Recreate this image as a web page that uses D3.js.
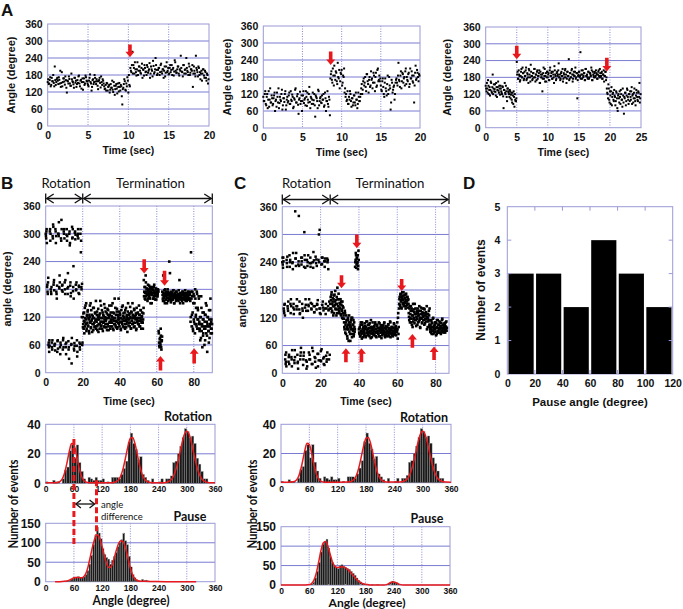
<!DOCTYPE html>
<html><head><meta charset="utf-8">
<script src="https://cdn.jsdelivr.net/npm/d3@7"></script>
<style>body{margin:0;background:#fff}svg{display:block}</style>
</head><body>
<script>
// ---------------- DATA ----------------
// Panel A: angle traces (degree), two interleaved frame sets each
const a1Dt = 0.125;
const a1Angle = [155,148,162,140,170,158,152,210,145,165,160,172,150,138,190,155,168,146,162,118,158,175,150,142,165,155,135,170,160,148,152,178,140,163,155,128,168,150,172,158,145,160,182,150,138,165,155,170,148,158,130,162,152,175,145,160,
140,132,125,150,138,145,128,135,160,120,142,130,148,115,138,152,125,140,76,135,165,128,150,172,118,145,
205,190,262,215,185,200,178,225,195,210,188,205,170,198,215,190,180,208,195,222,185,200,175,212,190,240,198,185,205,180,215,192,200,170,210,188,225,195,182,205,190,215,200,178,232,195,188,210,185,200,248,192,175,215,198,185,205,190,220,180,200,195,138,210,185,248,198,175,205,190,185,160,200,178,195,170,185,150];
const a1Angle2 = [165,150,172,145,158,180,140,162,155,170,148,163,195,152,140,168,157,175,135,160,150,166,142,185,158,147,170,153,138,162,175,150,160,132,168,155,145,178,160,150,140,170,155,125,162,148,180,157,165,142,158,170,136,155,165,150,
130,145,152,125,140,118,148,135,128,155,110,142,132,150,122,138,145,105,130,148,158,125,140,160,180,140,
195,215,185,205,225,190,200,180,210,195,185,220,200,178,205,192,215,188,200,170,210,195,230,185,200,215,180,198,205,190,220,185,200,195,175,210,190,205,185,215,198,180,205,192,225,188,200,210,178,195,205,190,215,185,200,240,195,180,210,188,200,215,185,195,175,205,190,210,180,165,195,185,200,170,190,160,180,165];
const a2Dt = 0.125;
const a2Angle = [110,95,130,80,120,100,75,140,90,105,85,115,60,100,125,90,70,110,95,135,80,105,120,65,100,90,115,85,130,95,110,75,100,140,90,120,50,105,85,115,95,130,100,80,110,125,90,145,70,105,100,85,120,40,110,95,135,80,105,90,115,100,75,125,60,95,85,110,
45,190,170,210,150,185,200,165,230,175,140,195,205,160,180,125,
110,95,130,85,100,120,75,105,90,115,80,100,70,125,95,110,
140,120,165,150,180,130,190,155,170,145,200,175,160,185,130,195,150,210,170,165,
150,130,175,120,160,140,115,185,135,150,65,170,125,145,100,160,
175,150,230,165,185,140,195,160,180,200,155,170,190,145,210,175,185,160,90,195,170,205,180,190];
const a2Angle2 = [95,120,85,110,70,130,100,90,115,80,105,125,95,75,110,140,88,100,120,65,105,92,130,80,110,95,125,85,100,118,70,105,135,90,112,82,100,128,95,60,115,88,105,130,78,100,120,92,110,85,125,98,80,115,105,70,130,95,110,88,100,120,80,105,95,130,75,100,
175,200,160,185,220,170,195,155,180,205,165,190,150,185,210,140,
120,100,85,110,130,95,105,80,115,90,125,100,85,110,95,120,
155,135,175,160,145,190,165,125,180,150,170,140,195,160,180,145,205,165,185,175,
135,165,145,110,175,130,155,120,180,140,90,160,135,150,120,170,
160,185,170,145,200,165,190,175,150,210,180,165,195,155,175,200,165,185,150,220,175,195,165,185];
const a3Dt = 0.125;
const a3Angle = [150,130,140,170,120,145,135,160,125,190,140,130,155,115,145,135,165,125,140,150,130,120,145,70,135,125,150,110,140,130,120,135,105,125,90,115,130,75,100,95,
235,200,175,190,165,185,210,180,195,170,200,185,215,175,190,160,205,180,225,185,170,195,180,210,165,190,200,175,185,205,160,190,180,130,195,175,210,185,165,200,180,195,170,215,185,200,175,190,160,205,185,175,200,190,230,180,170,195,185,210,175,190,205,180,160,200,185,245,175,195,180,210,165,190,185,200,175,195,105,185,200,180,270,190,175,205,185,195,170,210,185,180,200,175,195,190,215,170,200,185,195,180,205,190,175,200,185,210,180,195,175,190,205,185,200,170,
140,120,155,100,130,85,145,110,125,95,115,80,130,105,60,120,90,110,135,100,75,115,50,105,125,95,140,110,85,120,130,100,145,115,90,125,105,80,135,110,95,125,160,105];
const a3Angle2 = [140,160,125,150,135,115,165,130,145,120,155,138,128,160,110,145,132,150,118,140,125,148,112,135,160,120,130,95,140,125,110,130,118,100,125,85,110,120,95,105,
190,175,205,185,170,200,180,215,195,175,185,205,170,195,180,210,190,165,200,185,175,195,210,180,190,170,205,185,195,160,200,180,190,175,215,185,165,195,180,200,190,170,205,185,195,175,200,180,220,190,170,195,185,205,180,190,175,200,185,165,195,180,210,190,175,200,185,170,195,180,205,190,175,200,185,215,180,195,170,190,200,185,175,205,190,180,195,170,210,185,190,175,200,180,195,185,205,170,190,180,200,185,195,175,190,205,180,195,185,200,175,190,165,185,200,180,
125,105,140,90,115,130,80,120,100,135,110,95,125,70,115,105,130,85,120,100,140,90,110,125,80,115,135,100,120,95,110,130,85,120,105,140,95,115,125,100,130,110,90,120];
const a1Arrows = [[10.2, 288, 243]];
const a2Arrows = [[8.6, 270, 222]];
const a3Arrows = [[5.0, 293, 245], [19.5, 250, 201]];

// Panel B: two interleaved frame sets (rotation phase and termination phase)
const bDt = 0.25;
const bRotStart = 0, bTermStart = 20;
const bRotAngle = [300,290,310,185,175,195,60,55,70,305,285,180,170,65,50,295,320,190,200,58,62,310,280,175,160,45,70,300,295,185,210,55,65,290,330,178,190,50,75,305,
310,195,170,62,40,298,285,182,215,68,55,300,275,188,165,60,20,315,292,176,230,52,64,302,288,190,180,58,35,295,310,172,185,65,50,300,260,185,120,60];
const bRotAngle2 = [295,305,280,190,170,205,65,45,58,310,300,175,185,55,70,290,315,195,178,62,48,305,295,170,188,68,52,300,325,182,195,40,60,285,310,188,175,70,55,300,
290,180,200,55,65,310,295,170,185,50,30,305,280,195,172,62,75,290,310,185,160,48,58,305,298,178,195,70,45,300,290,188,170,55,62,310,285,180,192,65];
const bTermAngle = [120,105,95,130,110,100,145,115,90,125,108,135,100,115,85,120,110,150,98,112,125,105,118,92,140,108,100,128,115,95,110,132,102,120,88,115,125,105,155,100,118,110,95,130,108,122,100,115,140,105,112,98,128,118,105,135,92,120,110,125,100,115,145,108,120,95,130,112,105,160,118,102,125,110,138,98,115,120,105,132,110,125,95,118,108,142,115,100,128,112,120,105,135,115,98,125,110,118,150,102,115,128,108,120,95,132,112,105,125,118,108,138,100,122,115,128,95,118,110,130,112,105,125,118,100,135,115,108,122,110,95,128,
200,175,160,185,210,165,180,170,155,190,175,165,180,160,185,170,175,150,168,180,172,160,185,175,165,170,180,158,175,165,170,178,
90,65,55,75,60,80,50,70,
175,160,210,165,155,170,180,158,165,172,150,168,162,175,158,240,165,170,160,155,172,165,158,168,178,162,150,170,165,160,175,158,168,162,170,155,165,200,160,172,165,158,170,162,175,150,168,160,165,172,158,168,162,155,170,165,160,175,158,168,
170,110,260,160,125,175,95,150,115,165,105,180,120,140,100,170,115,135,95,160,
110,95,70,120,165,90,105,130,80,115,100,60,125,95,150,85,110,45,120,100,90,135,75,105,160,95,115,85];
const bTermAngle2 = [98,128,112,85,140,118,105,150,95,122,132,102,118,90,125,145,108,96,135,115,88,122,140,105,118,98,130,112,155,100,125,92,115,138,105,120,95,128,110,145,102,135,118,90,125,110,148,98,120,132,115,105,92,138,125,100,118,145,108,95,130,112,122,100,150,115,92,128,118,105,140,98,112,132,95,125,108,160,115,100,128,118,92,135,110,105,145,122,98,118,130,95,112,140,105,120,88,132,115,108,125,100,142,118,96,130,112,150,105,122,98,135,118,108,125,92,140,115,128,105,118,145,100,125,112,135,95,120,130,108,115,140,
165,185,172,158,195,175,168,182,160,178,170,188,162,175,150,180,168,185,172,160,178,165,190,170,158,175,182,168,172,165,180,175,
85,58,72,65,95,55,68,78,
168,155,172,162,178,150,165,175,158,170,162,180,155,168,172,160,215,165,152,175,160,170,158,178,165,150,172,162,168,155,175,165,160,170,158,178,162,168,150,165,172,160,155,175,168,162,158,170,165,178,155,168,172,160,165,175,158,162,170,160,
155,120,175,100,165,130,90,170,110,150,85,160,125,105,175,95,140,115,165,105,
90,120,105,75,140,100,55,115,85,130,95,110,70,125,100,145,80,105,120,90,65,115,100,135,85,110,95,105];
const bArrows = [[53.2, 245, 214], [64.2, 220, 188], [62, 5, 36], [80.2, 20, 53]];

// Panel C: two interleaved frame sets
const cDt = 0.25;
const cRotStart = 0, cTermStart = 25;
const cRotAngle = [240,235,250,140,130,150,30,20,45,245,230,145,135,25,40,255,240,150,160,35,15,238,225,142,128,28,50,350,248,260,138,145,22,10,242,232,155,130,38,55,235,250,140,120,30,45,305,245,228,148,135,25,15,240,255,145,160,40,30,230,238,138,150,20,48,262,244,132,145,33,12,246,232,148,158,42,28,240,310,140,128,26,52,236,250,142,136,35,18,248,242,150,140,30,45,245,225,138,155,40];
const cRotAngle2 = [250,228,242,135,148,125,40,25,15,238,252,140,155,35,20,230,245,130,145,30,50,240,260,150,138,22,35,248,232,145,160,40,25,235,340,138,128,30,45,250,
242,150,135,18,38,230,255,142,160,28,10,245,232,135,148,45,30,238,250,152,140,20,55,240,228,145,132,35,25,252,238,138,150,42,15,245,300,140,130,28,48,235,250,148,155,32,20,242,230,140,128,38,25,248,240,145,136,30];
const cTermAngle = [150,165,140,175,135,155,145,160,130,170,148,140,158,125,150,185,138,145,160,130,142,150,128,155,135,120,145,130,
125,110,95,130,105,85,115,100,75,120,95,110,90,105,70,115,100,85,120,95,105,80,110,90,
230,245,255,235,250,240,225,265,
95,85,100,80,110,90,75,105,88,98,92,82,108,95,78,100,88,112,85,96,90,105,80,98,86,115,92,78,100,88,95,84,102,90,110,80,96,88,105,92,86,98,80,108,94,88,100,76,95,90,104,85,92,110,82,98,88,95,80,100,90,106,84,96,88,112,78,94,100,86,92,80,98,108,86,95,84,102,90,96,
110,75,130,100,
150,165,145,172,158,140,160,168,152,175,148,162,155,170,145,158,165,150,142,160,
130,115,145,120,135,110,140,125,100,150,118,132,108,128,140,115,122,135,105,130,125,112,145,120,98,135,118,128,110,140,122,130,115,138,108,125,132,118,95,128,120,112,135,105,
100,90,115,95,85,108,92,120,98,88,105,95,110,82,100,115,90,98,105,88,112,95,100,85,108,92,118,98,90,102,95,105,88,110,100,92];
const cTermAngle2 = [140,158,170,132,150,162,125,168,145,155,178,138,150,165,130,160,145,172,135,152,140,160,125,148,138,155,118,142,
118,100,135,88,110,125,95,80,115,105,70,125,100,85,110,95,120,78,105,92,115,85,100,95,
240,260,228,248,238,255,232,245,
88,98,80,105,92,85,110,95,78,100,90,85,102,96,80,112,88,94,105,82,98,88,108,92,76,100,86,95,110,84,92,100,82,106,95,88,78,102,90,98,85,110,92,80,98,104,88,94,82,100,95,86,108,90,78,102,96,84,100,92,88,105,80,98,92,110,86,95,82,100,90,98,84,106,92,88,100,82,95,90,
95,120,85,140,
160,148,170,155,142,165,175,150,158,145,168,152,162,140,172,155,148,165,158,150,
122,140,110,128,145,118,105,135,125,112,138,120,150,115,128,102,132,118,140,110,125,135,115,100,128,142,120,108,132,125,115,140,105,125,118,130,112,145,122,100,128,115,125,140,
95,105,88,112,100,92,118,85,102,95,110,90,98,108,85,100,115,92,105,95,88,110,98,102,90,115,95,105,88,100,108,92,102,95,112,98];
const cArrows = [[30.9, 212, 184], [38.9, 300, 270], [62.3, 204, 178], [33.2, 24, 54], [41.3, 24, 54], [67.9, 55, 85], [79.2, 29, 58]];

// Rotation histogram (5 degree bins)
const rotBinWidth = 5;
const rotCounts = [1,0,0,2,1,1,0,3,9,11,22,26,17,26,14,8,3,0,4,3,2,4,2,2,3,0,1,0,4,4,4,3,6,10,15,28,34,27,23,16,18,6,4,2,0,3,0,0,1,3,0,3,3,5,14,15,20,25,31,37,35,31,32,27,17,13,8,3,3,0,0,0];
const rotFitX = [0,5,10,15,20,25,30,35,40,45,50,55,60,65,70,75,80,85,90,95,100,120,140,145,150,155,160,165,170,175,180,185,190,195,200,205,210,215,220,225,250,255,260,265,270,275,280,285,290,295,300,305,310,315,320,325,330,335,340,345,350,360];
const rotFitY = [0.3,0.3,0.3,0.3,0.4,0.6,1.1,2.8,6.8,13.5,21.5,27,26.2,20,12,5.8,2.3,0.9,0.5,0.3,0.3,0.3,0.4,0.6,1.1,2.4,5.3,10.5,17.7,25.2,30.4,31,26.6,19.2,11.8,6.2,2.9,1.3,0.7,0.4,0.4,0.6,1,1.9,3.9,7.5,13,20.1,27.5,33.2,35.4,33.2,27.5,20.1,13,7.5,3.9,1.9,1,0.6,0.4,0.3];

// Pause histograms (4 degree bins)
const pauseBinWidth = 4;
const pauseBCounts = [0,0,0,0,0,1,1,1,1,1,2,2,3,5,8,10,12,13,11,10,12,18,28,45,68,95,118,140,125,110,85,70,62,58,45,55,65,75,90,100,108,125,105,95,65,38,18,10,5,3,2,6,3,4,2,1,1,0,1,0,0,1,0,0,0,0,0,0,0,0,0,0,0,0,0,0,0,0,0,0,0,0,0,0,0,0,0,0,0,0];
const pauseBFitX = [20,30,40,45,50,55,60,65,70,75,80,85,90,95,100,105,110,115,120,125,130,135,140,145,150,155,160,165,170,175,180,185,190,195,200,210,230,260,320];
const pauseBFitY = [0,0,1,2,4,7,10,11,11,10,12,20,38,65,92,112,120,112,90,65,45,36,40,58,80,98,105,102,85,60,35,17,7,3,1,1,0.5,0,0];
const pauseCCounts = [0,0,0,0,0,0,0,0,0,0,0,0,0,0,0,1,3,8,18,35,58,85,105,112,118,95,72,58,50,45,42,50,52,48,45,42,40,35,30,25,18,12,8,5,3,2,1,0,1,0,0,1,0,0,0,0,0,3,6,10,8,6,3,1,0,0,0,0,0,0,0,0,0,0,0,0,0,0,0,0,0,0,0,0,0,0,0,0,0,0];
const pauseCFitX = [0,50,55,60,65,70,75,80,85,90,95,100,105,110,115,120,125,130,135,140,145,150,155,160,165,170,175,180,185,190,220,225,230,235,240,245,250,255,260,300,360];
const pauseCFitY = [0,0,0.5,1,4,12,30,58,88,108,112,100,78,58,48,45,46,47,46,42,37,30,23,16,10,6,3,2,1,0,0,1,4,7,8,6,3,1,0,0,0];

// Panel D
const dBins = [0,20,40,60,80,100];
const dCounts = [3,3,2,4,3,2];

// ---------------- DRAW ----------------
const W = 683, H = 609;
const GRID = "#7a7ad2", BORDER = "#9a9ad6", RED = "#e8191c";
const TF = "'Liberation Sans', Arial, sans-serif";
const LF = "Lato, 'Liberation Sans', sans-serif";
const svg = d3.select("body").append("svg").attr("width", W).attr("height", H).style("background", "#fff");

function frame(o) {
  const g = svg.append("g");
  const x = d3.scaleLinear().domain(o.xd).range([o.l, o.r]);
  const y = d3.scaleLinear().domain(o.yd).range([o.b, o.t]);
  g.selectAll(null).data(o.hg || []).join("line")
    .attr("x1", o.l).attr("x2", o.r).attr("y1", d => y(d)).attr("y2", d => y(d))
    .attr("stroke", GRID).attr("stroke-width", 1);
  g.selectAll(null).data(o.vg || []).join("line")
    .attr("y1", o.t).attr("y2", o.b).attr("x1", d => x(d)).attr("x2", d => x(d))
    .attr("stroke", GRID).attr("stroke-width", 0.9).attr("stroke-dasharray", "1,1.5");
  const ay = g.append("g").attr("transform", `translate(${o.l},0)`)
    .call(d3.axisLeft(y).tickValues(o.yt).tickSize(0).tickPadding(o.yp || 5).tickFormat(d3.format("d")));
  ay.select(".domain").remove();
  ay.selectAll("text").attr("font-family", TF).attr("font-weight", "bold").attr("font-size", o.yfs || 10).attr("fill", "#111");
  const ax = g.append("g").attr("transform", `translate(0,${o.b})`)
    .call(d3.axisBottom(x).tickValues(o.xt).tickSize(0).tickPadding(o.xp || 5).tickFormat(d3.format("d")));
  ax.select(".domain").remove();
  ax.selectAll("text").attr("font-family", TF).attr("font-weight", "bold").attr("font-size", o.xfs || 10).attr("fill", "#111");
  g.append("rect").attr("x", o.l).attr("y", o.t).attr("width", o.r - o.l).attr("height", o.b - o.t)
    .attr("fill", "none").attr("stroke", BORDER).attr("stroke-width", 1);
  return {g, x, y};
}

function text(x, y, s, o = {}) {
  const t = svg.append("text").attr("x", x).attr("y", y).text(s)
    .attr("font-family", o.ff || TF).attr("font-weight", o.fw || "bold")
    .attr("font-size", o.fs || 11).attr("text-anchor", o.anchor || "middle").attr("fill", "#111");
  if (o.rot) t.attr("transform", `rotate(-90,${x},${y})`);
  if (o.len) t.attr("textLength", o.len).attr("lengthAdjust", "spacingAndGlyphs");
  return t;
}

function dots(p, start, dt, angles, size) {
  p.g.append("g").selectAll(null).data(angles.map((a, i) => [start + i * dt, a])).join("rect")
    .attr("x", d => p.x(d[0]) - size / 2).attr("y", d => p.y(d[1]) - size / 2)
    .attr("width", size).attr("height", size).attr("fill", "#000");
}

function arrows(p, list) {
  list.forEach(([t, a0, a1]) => {
    const x = p.x(t), y0 = p.y(a0), y1 = p.y(a1);
    const dir = Math.sign(y1 - y0), hl = 5.5, sw = 1.8, hw = 4.5;
    const yh = y1 - dir * hl;
    const path = `M${x - sw},${y0} L${x + sw},${y0} L${x + sw},${yh} L${x + hw},${yh} L${x},${y1} L${x - hw},${yh} L${x - sw},${yh} Z`;
    p.g.append("path").attr("d", path).attr("fill", RED);
  });
}

// ---- Panel A ----
const aCfg = [
  {l: 47.7, r: 209, t: 24, b: 126, xd: [0, 20], xt: [0, 5, 10, 15, 20], dt: a1Dt, ang: a1Angle, ang2: a1Angle2, arr: a1Arrows, tx: 14.5},
  {l: 263.3, r: 420, t: 26, b: 128, xd: [0, 20], xt: [0, 5, 10, 15, 20], dt: a2Dt, ang: a2Angle, ang2: a2Angle2, arr: a2Arrows, tx: 231},
  {l: 485.7, r: 641, t: 27, b: 127.7, xd: [0, 25], xt: [0, 5, 10, 15, 20, 25], dt: a3Dt, ang: a3Angle, ang2: a3Angle2, arr: a3Arrows, tx: 451}
];
const angTicks = [0, 60, 120, 180, 240, 300, 360];
aCfg.forEach(c => {
  const p = frame({l: c.l, r: c.r, t: c.t, b: c.b, xd: c.xd, yd: [0, 360], xt: c.xt, yt: angTicks,
    hg: [60, 120, 180, 240, 300], vg: c.xt.slice(1, -1), yfs: 10.5, xfs: 10.5, xp: 6});
  dots(p, 0, c.dt, c.ang, 2.0);
  dots(p, c.dt / 2, c.dt, c.ang2, 2.0);
  arrows(p, c.arr);
  text((c.l + c.r) / 2, c.b + 28, "Time (sec)", {fs: 10.5});
  text(c.tx, (c.t + c.b) / 2, "Angle (degree)", {rot: true, fs: 11});
});
text(1, 16, "A", {anchor: "start", fs: 17});

// ---- Panel B ----
const pB = frame({l: 45.7, r: 212.3, t: 206, b: 372.7, xd: [0, 90], yd: [0, 360], xt: [0, 20, 40, 60, 80], yt: angTicks,
  hg: [60, 120, 180, 240, 300], vg: [20, 40, 60, 80], yfs: 10.5, xfs: 10.5, xp: 6});
dots(pB, bRotStart, bDt, bRotAngle, 2.5);
dots(pB, bRotStart + bDt / 2, bDt, bRotAngle2, 2.5);
dots(pB, bTermStart, bDt, bTermAngle, 2.6);
dots(pB, bTermStart + bDt / 2, bDt, bTermAngle2, 2.6);
arrows(pB, bArrows);
text(129, 405, "Time (sec)", {fs: 10.5});
text(10.5, 289, "angle (degree)", {rot: true, fs: 11});
text(1, 189, "B", {anchor: "start", fs: 17});

// ---- Panel C ----
const pC = frame({l: 282.3, r: 449, t: 206.7, b: 373.3, xd: [0, 87], yd: [0, 360], xt: [0, 20, 40, 60, 80], yt: angTicks,
  hg: [60, 120, 180, 240, 300], vg: [20, 40, 60, 80], yfs: 10.5, xfs: 10.5, xp: 6});
dots(pC, cRotStart, cDt, cRotAngle, 2.5);
dots(pC, cRotStart + cDt / 2, cDt, cRotAngle2, 2.5);
dots(pC, cTermStart, cDt, cTermAngle, 2.6);
dots(pC, cTermStart + cDt / 2, cDt, cTermAngle2, 2.6);
arrows(pC, cArrows);
text(366, 405, "Time (sec)", {fs: 10.5});
text(246, 290, "angle (degree)", {rot: true, fs: 11});
text(234, 189, "C", {anchor: "start", fs: 17});

// Phase header arrows
function phaseArrow(p, t0, t1, y) {
  const x0 = p.x(t0) + 1, x1 = p.x(t1) - 1, h = 4.5;
  const g = svg.append("g").attr("stroke", "#111").attr("stroke-width", 1.3).attr("fill", "none");
  g.append("line").attr("x1", x0).attr("x2", x1).attr("y1", y).attr("y2", y);
  g.append("path").attr("d", `M${x0 + 7},${y - h} L${x0},${y} L${x0 + 7},${y + h}`);
  g.append("path").attr("d", `M${x1 - 7},${y - h} L${x1},${y} L${x1 - 7},${y + h}`);
  g.append("line").attr("x1", p.x(t0)).attr("x2", p.x(t0)).attr("y1", y - 5).attr("y2", y + 5);
}
phaseArrow(pB, 0, 20, 198.5); phaseArrow(pB, 20, 90, 198.5);
phaseArrow(pC, 0, 25, 199.5); phaseArrow(pC, 25, 87, 199.5);
[pB, pC].forEach(p => svg.append("line").attr("x1", p.x.range()[1]).attr("x2", p.x.range()[1]).attr("y1", 193.5).attr("y2", 204).attr("stroke", "#111").attr("stroke-width", 1.3));
text(66, 188, "Rotation", {ff: LF, fw: "normal", fs: 13.5, len: 49});
text(150.5, 188, "Termination", {ff: LF, fw: "normal", fs: 13.5, len: 69});
text(306.5, 188, "Rotation", {ff: LF, fw: "normal", fs: 13.5, len: 49});
text(390, 188, "Termination", {ff: LF, fw: "normal", fs: 13.5, len: 69});

// ---- Panel D ----
const dp = {l: 507.3, r: 672.7, t: 206.7, b: 374};
const pD = frame({...dp, xd: [0, 120], yd: [0, 5], xt: [0, 20, 40, 60, 80, 100, 120], yt: [0, 1, 2, 3, 4, 5],
  hg: [], vg: [], yfs: 10.5, xfs: 10.5, xp: 6, yp: 7});
pD.g.selectAll(null).data(dBins.map((b, i) => [b, dCounts[i]])).join("rect")
  .attr("x", d => pD.x(d[0]) + 1.2).attr("width", d => pD.x(d[0] + 20) - pD.x(d[0]) - 2.4)
  .attr("y", d => pD.y(d[1])).attr("height", d => pD.y(0) - pD.y(d[1])).attr("fill", "#000");
// inward ticks on all sides
const dTk = svg.append("g").attr("stroke", BORDER).attr("stroke-width", 1);
[20, 40, 60, 80, 100].forEach(v => {
  dTk.append("line").attr("x1", pD.x(v)).attr("x2", pD.x(v)).attr("y1", dp.t).attr("y2", dp.t + 4);
  dTk.append("line").attr("x1", pD.x(v)).attr("x2", pD.x(v)).attr("y1", dp.b).attr("y2", dp.b - 4);
});
[1, 2, 3, 4].forEach(v => {
  dTk.append("line").attr("x1", dp.l).attr("x2", dp.l + 4).attr("y1", pD.y(v)).attr("y2", pD.y(v));
  dTk.append("line").attr("x1", dp.r).attr("x2", dp.r - 4).attr("y1", pD.y(v)).attr("y2", pD.y(v));
});
text(590, 406, "Pause angle (degree)", {fs: 11.5});
text(484.5, 290, "Number of events", {rot: true, fs: 12});
text(463, 189, "D", {anchor: "start", fs: 17});

// ---- Histograms ----
function hist(box, yd, yt, hg, counts, bw, fx, fy, yfs) {
  const p = frame({...box, xd: [0, 360], yd, xt: [0, 60, 120, 180, 240, 300, 360], yt,
    hg, vg: [60, 120, 180, 240, 300], yfs, xfs: 8.5, xp: 3});
  p.g.selectAll(null).data(counts.map((c, i) => [i * bw, c]).filter(d => d[1] > 0)).join("rect")
    .attr("x", d => p.x(d[0])).attr("width", d => p.x(d[0] + bw) - p.x(d[0]))
    .attr("y", d => p.y(d[1])).attr("height", d => p.y(0) - p.y(d[1]))
    .attr("fill", "#1a1a1a").attr("stroke", "#9a9a9a").attr("stroke-width", 0.35);
  const line = d3.line().x(d => p.x(d[0])).y(d => p.y(d[1])).curve(d3.curveMonotoneX);
  p.g.append("path").attr("d", line(fx.map((v, i) => [v, fy[i]]))).attr("fill", "none")
    .attr("stroke", RED).attr("stroke-width", 1.5);
  return p;
}
const rB = hist({l: 45.7, r: 215, t: 424.3, b: 483.3}, [0, 40], [0, 20, 40], [20], rotCounts, rotBinWidth, rotFitX, rotFitY, 12);
const rC = hist({l: 281, r: 451, t: 424.3, b: 482.7}, [0, 40], [0, 20, 40], [20], rotCounts, rotBinWidth, rotFitX, rotFitY, 12);
const qB = hist({l: 45.7, r: 215, t: 523.3, b: 581.7}, [0, 150], [0, 50, 100, 150], [50, 100], pauseBCounts, pauseBinWidth, pauseBFitX, pauseBFitY, 12);
const qC = hist({l: 281, r: 450, t: 526.7, b: 585}, [0, 150], [0, 50, 100, 150], [50, 100], pauseCCounts, pauseBinWidth, pauseCFitX, pauseCFitY, 12);

text(212, 421, "Rotation", {ff: LF, fs: 13.5, anchor: "end", len: 48});
text(448, 422, "Rotation", {ff: LF, fs: 13.5, anchor: "end", len: 48});
text(190, 520.5, "Pause", {ff: LF, fs: 13.5, len: 33});
text(427, 522.5, "Pause", {ff: LF, fs: 13.5, len: 33});
text(131, 605, "Angle (degree)", {ff: LF, fs: 12.5, len: 77});
text(367, 607, "Angle (degree)", {ff: LF, fs: 12, len: 77});
text(17.5, 504, "Number of events", {ff: LF, fs: 13, rot: true, len: 89});
text(257, 504, "Number of events", {ff: LF, fs: 13, rot: true, len: 89});

// angle-difference annotation (panel B)
const dashed = [[60, rB.y(30), qB.y(95)], [108, rB.y(2), qB.y(118)]];
dashed.forEach(([a, y0, y1]) => {
  svg.append("line").attr("x1", rB.x(a)).attr("x2", rB.x(a)).attr("y1", y0).attr("y2", y1)
    .attr("stroke", RED).attr("stroke-width", 3).attr("stroke-dasharray", "6,3");
});
const ay = 504, ax0 = rB.x(62) + 1, ax1 = rB.x(106) - 1;
const ag = svg.append("g").attr("stroke", "#111").attr("stroke-width", 1.3).attr("fill", "none");
ag.append("line").attr("x1", ax0).attr("x2", ax1).attr("y1", ay).attr("y2", ay);
ag.append("path").attr("d", `M${ax0 + 5},${ay - 4} L${ax0},${ay} L${ax0 + 5},${ay + 4}`);
ag.append("path").attr("d", `M${ax1 - 5},${ay - 4} L${ax1},${ay} L${ax1 - 5},${ay + 4}`);
text(101, 508, "angle", {ff: LF, fw: "normal", fs: 9.5, anchor: "start"});
text(101, 519.5, "difference", {ff: LF, fw: "normal", fs: 9.5, anchor: "start"});
</script>
</body></html>
